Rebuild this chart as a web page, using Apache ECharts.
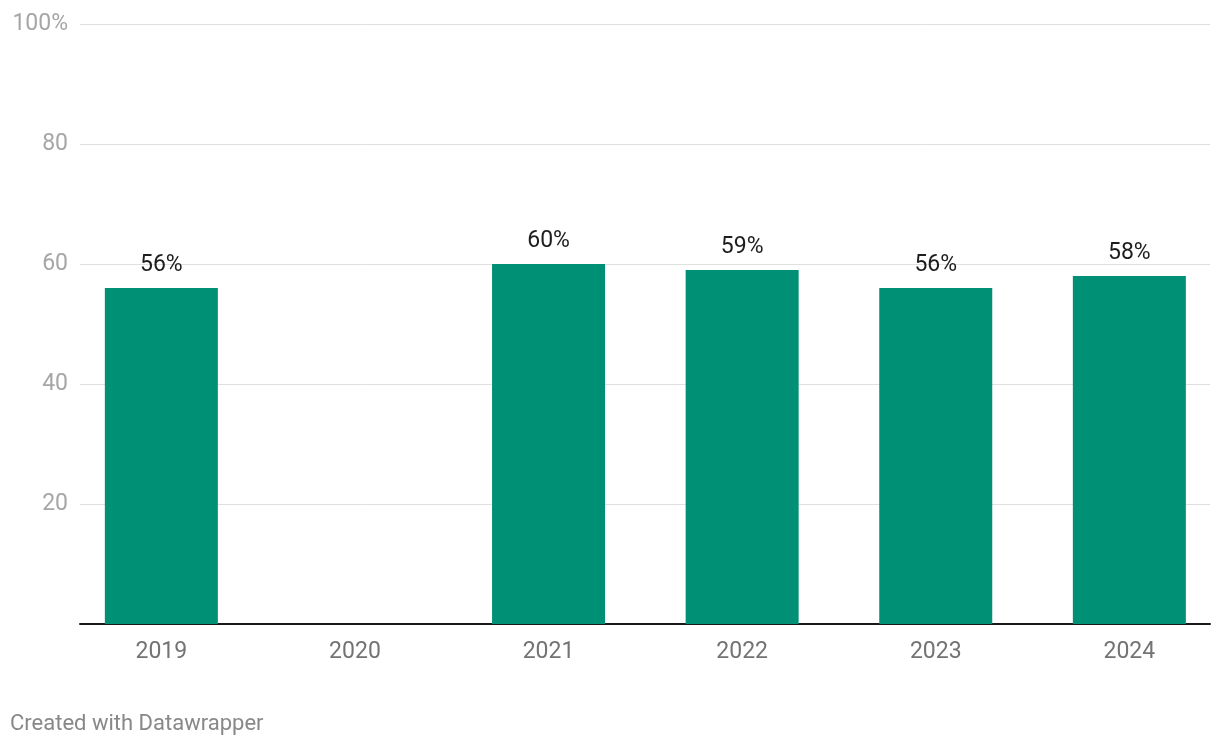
<!DOCTYPE html>
<html>
<head>
<meta charset="utf-8">
<script src="https://cdn.jsdelivr.net/npm/echarts@6/dist/echarts.min.js"></script>
<style>
html,body{margin:0;padding:0;background:#fff;}
#chart{width:1220px;height:746px;}
</style>
</head>
<body>
<div id="chart"></div>
<script>
const years = ['2019', '2020', '2021', '2022', '2023', '2024'];
const shares = [56, null, 60, 59, 56, 58];
const yTicks = [0, 20, 40, 60, 80, 100];

const chart = echarts.init(document.getElementById('chart'), null, {renderer: 'canvas'});
const barData = years.map((y, i) => [i, shares[i]]);
chart.setOption({
  animation: false,
  backgroundColor: '#ffffff',
  textStyle: {fontFamily: 'Roboto'},
  grid: {left: 80, right: 10, top: 24, bottom: 122, containLabel: false},
  xAxis: {
    type: 'value',
    min: -0.4202,
    max: 5.4166,
    splitLine: {show: false},
    axisTick: {show: false},
    axisLine: {show: true, lineStyle: {color: '#1a1a1a', width: 2}},
    axisLabel: {
      customValues: years.map((y, i) => i),
      formatter: v => years[Math.round(v)] || '',
      color: '#737373', fontSize: 23, fontFamily: 'Roboto', margin: 17
    }
  },
  yAxis: {
    type: 'value',
    min: 0, max: 100, interval: 20,
    axisLine: {show: false},
    axisTick: {show: false},
    splitLine: {lineStyle: {color: '#e0e0e0', width: 1}},
    axisLabel: {
      color: '#a6a6a6', fontSize: 23, fontFamily: 'Roboto', margin: 12,
      formatter: v => v === 0 ? '' : (v === 100 ? v + '%' : String(v))
    }
  },
  series: [{
    type: 'bar',
    data: barData,
    barWidth: 113,
    itemStyle: {color: '#009075'},
    label: {
      show: true, position: 'top', distance: 11,
      color: '#1d1d1d', fontSize: 23, fontFamily: 'Roboto',
      formatter: p => p.value[1] + '%'
    }
  }],
  graphic: [{
    type: 'text', left: 10, top: 713,
    style: {text: 'Created with Datawrapper', fill: '#888888', fontSize: 22, fontFamily: 'Roboto'}
  }]
});
</script>
</body>
</html>
